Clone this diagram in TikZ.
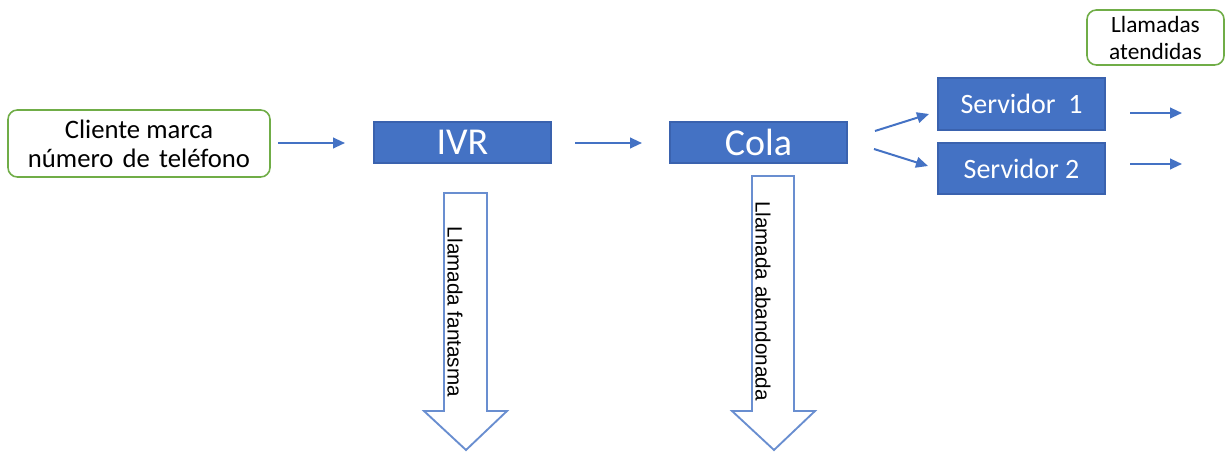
\documentclass[tikz,border=0pt]{standalone}
\usepackage{fontspec}
\setmainfont{Carlito}
\newfontfamily\arrowfont{Liberation Sans}
\usetikzlibrary{arrows.meta}
\definecolor{ofblue}{HTML}{4472C4}
\definecolor{ofdark}{HTML}{3A62AE}
\definecolor{ofgreen}{HTML}{70AD47}
\tikzset{
  greenbox/.style={draw=ofgreen, line width=1.2pt, rounded corners=7pt, fill=white, align=center, inner sep=0pt},
  bluebox/.style={draw=ofdark, line width=0.8pt, fill=ofblue, text=white, inner sep=0pt},
  flowarrow/.style={draw=ofblue, line width=1.5pt, -{Triangle[length=9pt,width=8pt]}},
  blockarrow/.style={draw=ofblue!80, line width=1.4pt, fill=white, line join=miter},
  arrowtext/.style={rotate=-90, font=\arrowfont\fontsize{15.5}{18}\selectfont, inner sep=0pt}
}
\begin{document}
\begin{tikzpicture}[x=0.75pt, y=-0.75pt]
\useasboundingbox (0,0) rectangle (1225,452);
% nodes
\node[greenbox, minimum width=262*0.75pt, minimum height=67*0.75pt,
      font=\fontsize{20}{21.75}\selectfont] (client) at (139,143.5)
      {Cliente marca\\número\hspace{0.12em} de\hspace{0.12em} teléfono};
\node[bluebox, minimum width=177*0.75pt, minimum height=41*0.75pt,
      font=\fontsize{28.5}{30}\selectfont] (ivr) at (462.5,142.5) {IVR};
\node[bluebox, minimum width=177*0.75pt, minimum height=41*0.75pt,
      font=\fontsize{28.5}{30}\selectfont] (cola) at (758.5,142.5) {Cola};
\node[bluebox, minimum width=167*0.75pt, minimum height=52*0.75pt,
      font=\fontsize{21}{24}\selectfont] (s1) at (1021.5,104) {Servidor~ 1};
\node[bluebox, minimum width=167*0.75pt, minimum height=51*0.75pt,
      font=\fontsize{21}{24}\selectfont] (s2) at (1021.5,168.5) {Servidor 2};
\node[greenbox, minimum width=137*0.75pt, minimum height=55*0.75pt,
      font=\fontsize{17.5}{20.25}\selectfont] (aten) at (1155.5,37.5)
      {Llamadas\\atendidas};
% connectors
\coordinate (a1s) at (278,143);  \coordinate (a1e) at (345,143);
\coordinate (a2s) at (575,143);  \coordinate (a2e) at (642,143);
\coordinate (a3s) at (875,131);  \coordinate (a3e) at (929,114);
\coordinate (a4s) at (874,149);  \coordinate (a4e) at (928,166);
\coordinate (a5s) at (1130,113); \coordinate (a5e) at (1182,113);
\coordinate (a6s) at (1130,164); \coordinate (a6e) at (1182,164);
\draw[flowarrow] (a1s) -- (a1e);
\draw[flowarrow] (a2s) -- (a2e);
\draw[flowarrow] (a3s) -- (a3e);
\draw[flowarrow] (a4s) -- (a4e);
\draw[flowarrow] (a5s) -- (a5e);
\draw[flowarrow] (a6s) -- (a6e);
% block arrows
\draw[blockarrow] (444,193) -- (487,193) -- (487,411) -- (507,411) -- (466,450)
  -- (424,411) -- (444,411) -- cycle;
\node[arrowtext] (fant) at (455,312) {Llamada fantasma};
\draw[blockarrow] (752,176) -- (794,176) -- (794,411) -- (815,411) -- (774,450)
  -- (732,411) -- (752,411) -- cycle;
\node[arrowtext] (aband) at (763,301) {Llamada abandonada};
\end{tikzpicture}
\end{document}
